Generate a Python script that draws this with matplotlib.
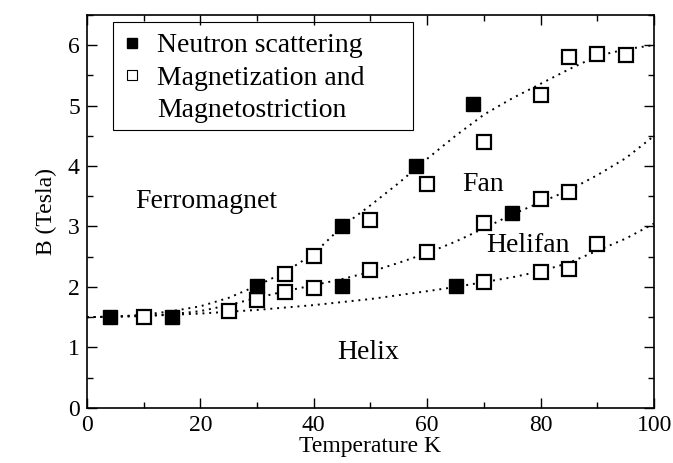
import matplotlib
matplotlib.use("Agg")
import matplotlib.pyplot as plt
from matplotlib.ticker import MultipleLocator
from matplotlib.lines import Line2D
from matplotlib.patches import Rectangle

plt.rcParams['font.family'] = ['Liberation Serif', 'DejaVu Serif']

# Neutron scattering (filled squares)
neutron_T = [4, 15, 30, 45, 45, 58, 68, 75, 65]
neutron_B = [1.51, 1.51, 2.01, 3.0, 2.01, 4.0, 5.02, 3.22, 2.01]

# Magnetization and magnetostriction (open squares)
mag_T = [10, 25, 30, 35, 35, 40, 40, 50, 50, 60, 60, 70, 70, 70,
         80, 80, 80, 85, 85, 85, 90, 90, 95]
mag_B = [1.51, 1.61, 1.79, 2.21, 1.91, 2.52, 1.99, 3.1, 2.28, 3.70, 2.57,
         4.40, 3.06, 2.08, 5.17, 3.45, 2.24, 5.80, 3.57, 2.30, 5.86, 2.71, 5.83]

# Phase boundary guide lines
upper_T = [0, 5, 10, 15, 20, 25, 30, 35, 40, 45, 50, 55, 60, 65, 70, 75, 80, 85, 90, 95, 100]
upper_B = [1.5, 1.51, 1.54, 1.6, 1.68, 1.82, 2.02, 2.25, 2.55, 3.0, 3.35, 3.72, 4.12,
           4.5, 4.85, 5.12, 5.36, 5.6, 5.82, 5.93, 6.0]
middle_T = [0, 10, 15, 20, 25, 30, 35, 40, 45, 50, 55, 60, 65, 70, 75, 80, 85, 90, 95, 100]
middle_B = [1.5, 1.52, 1.55, 1.6, 1.7, 1.82, 1.93, 2.03, 2.13, 2.25, 2.4, 2.56, 2.75,
            2.97, 3.2, 3.4, 3.6, 3.85, 4.13, 4.5]
lower_T = [0, 10, 20, 30, 40, 50, 60, 65, 70, 75, 80, 85, 90, 95, 100]
lower_B = [1.5, 1.52, 1.56, 1.62, 1.7, 1.8, 1.93, 2.0, 2.08, 2.16, 2.26, 2.4, 2.6, 2.8, 3.05]

legend_labels = ['Neutron scattering', 'Magnetization and', 'Magnetostriction']
region_labels = ['Ferromagnet', 'Fan', 'Helifan', 'Helix']
region_T = [8.5, 66.1, 70.4, 44.1]
region_B = [3.42, 3.70, 2.68, 0.91]

fig = plt.figure(figsize=(6.73, 4.63), dpi=100)
ax = fig.add_axes([0.129, 0.119, 0.843, 0.849])

dot = (0, (1, 2.5))
for T, B in [(upper_T, upper_B), (middle_T, middle_B), (lower_T, lower_B)]:
    ax.plot(T, B, color='black', linestyle=dot, linewidth=1.4, zorder=2)

ax.plot(mag_T, mag_B, linestyle='none', marker='s', markersize=9.5,
        markerfacecolor='white', markeredgecolor='black', markeredgewidth=1.6, zorder=3)
ax.plot(neutron_T, neutron_B, linestyle='none', marker='s', markersize=10,
        markerfacecolor='black', markeredgecolor='black', zorder=4)

ax.set_xlim(0, 100)
ax.set_ylim(0, 6.5)
ax.xaxis.set_major_locator(MultipleLocator(20))
ax.xaxis.set_minor_locator(MultipleLocator(10))
ax.yaxis.set_major_locator(MultipleLocator(1))
ax.yaxis.set_minor_locator(MultipleLocator(0.5))
ax.tick_params(which='both', direction='in', top=True, right=True, width=1.0)
ax.tick_params(which='major', length=7, labelsize=17, pad=5)
ax.tick_params(which='minor', length=4)
for s in ax.spines.values():
    s.set_linewidth(1.2)

ax.set_xlabel('Temperature K', fontsize=17, labelpad=0)
ax.set_ylabel('B (Tesla)', fontsize=17, labelpad=8)

for lab, t, b in zip(region_labels, region_T, region_B):
    ax.text(t, b, lab, fontsize=20, va='center', ha='left')

handles = [
    Line2D([], [], linestyle='none', marker='s', markersize=7,
           markerfacecolor='black', markeredgecolor='black'),
    Line2D([], [], linestyle='none', marker='s', markersize=7,
           markerfacecolor='white', markeredgecolor='black', markeredgewidth=0.8),
    Line2D([], [], linestyle='none', marker=None),
]
leg = ax.legend(handles, legend_labels,
                loc='upper left', bbox_to_anchor=(0.046, 0.975), fontsize=20,
                frameon=False, handlelength=0.8, handletextpad=0.5, borderpad=0.3,
                labelspacing=0.25, borderaxespad=0)
ax.add_patch(Rectangle((0.046, 0.707), 0.529, 0.275, transform=ax.transAxes,
                       fill=False, edgecolor='black', linewidth=0.8, zorder=5))

fig.savefig('out.png', dpi=100)
